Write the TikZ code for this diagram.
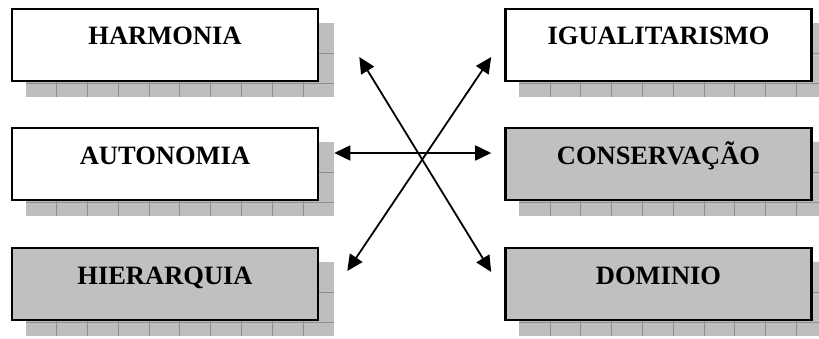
\documentclass[tikz,border=0pt]{standalone}
\usepackage{fontspec}
\setmainfont{Liberation Serif}
\usepackage{tikz}
\usetikzlibrary{arrows.meta,backgrounds}
\usepackage{xcolor}

\definecolor{caixacinza}{HTML}{C0C0C0}
\definecolor{sombracinza}{HTML}{BEBEBE}
\definecolor{gradecinza}{HTML}{8E8E8E}

\tikzset{
    valor/.style={draw, line width=2.6pt, minimum width=306pt, minimum height=72pt,
        text height=18pt, text depth=18pt, inner sep=0pt,
        font=\bfseries\fontsize{26.5}{30}\selectfont},
    branca/.style={valor, fill=white},
    cinza/.style={valor, fill=caixacinza},
    seta/.style={line width=1.8pt, {Triangle[length=16pt,width=15pt]}-{Triangle[length=16pt,width=15pt]}},
    grade/.style={gradecinza, line width=0.8pt}
}

\begin{document}
\begin{tikzpicture}[x=1pt, y=1pt]
    \useasboundingbox (0,0) rectangle (819,338);

    % Caixas
    \node[branca] (harm) at (165,293) {HARMONIA};
    \node[branca] (auto) at (165,174) {AUTONOMIA};
    \node[cinza]  (hier) at (165,54)  {HIERARQUIA};
    \node[branca] (igua) at (658.5,293) {IGUALITARISMO};
    \node[cinza]  (cons) at (658.5,174) {CONSERVAÇÃO};
    \node[cinza]  (domi) at (658.5,54)  {DOMINIO};

    % Sombras quadriculadas
    \begin{scope}[on background layer]
    \foreach \n in {harm, auto, hier, igua, cons, domi} {
        \fill[sombracinza] ([shift={(15,-15)}]\n.south west) rectangle ([shift={(15,-15)}]\n.north east);
        \foreach \k in {1,...,9}
            \draw[grade] ([shift={(15+\k*30.8,-15)}]\n.south west) -- ([shift={(15+\k*30.8,-15)}]\n.north west);
        \foreach \k in {31, 61}
            \draw[grade] ([shift={(15,-15-\k)}]\n.north west) -- ([shift={(15,-15-\k)}]\n.north east);
    }
    \end{scope}

    % Setas
    \draw[seta] ([shift={(15,11)}]auto.east) -- ([shift={(-13,11)}]cons.west);
    \draw[seta] ([shift={(40,-12)}]harm.east) -- ([shift={(-13,12)}]domi.west);
    \draw[seta] ([shift={(-13,-12)}]igua.west) -- ([shift={(28,13)}]hier.east);
\end{tikzpicture}
\end{document}
